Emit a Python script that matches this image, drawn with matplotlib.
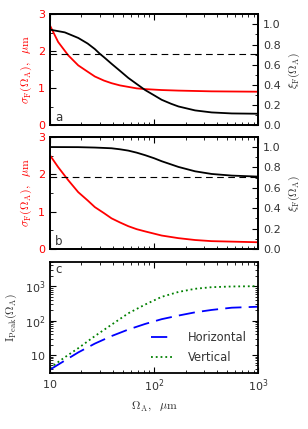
import matplotlib
matplotlib.use('Agg')
import matplotlib.pyplot as plt
from matplotlib.ticker import MultipleLocator, LogLocator, NullFormatter

plt.rcParams['mathtext.fontset'] = 'cm'
plt.rcParams['font.size'] = 7.5

# panel a
xa_sig = [10, 12, 15, 18.7, 23, 27, 33, 39, 47, 56.5, 68, 82, 118, 171, 356, 1000]
sig_a = [2.70, 2.25, 1.89, 1.62, 1.45, 1.32, 1.21, 1.14, 1.08, 1.04, 1.00, 0.98, 0.955, 0.94, 0.92, 0.91]
xa_xi = [10, 13.9, 18.7, 23, 27, 30, 33, 39, 47, 56.5, 68, 82, 100, 118, 145, 171, 247, 356, 555, 1000]
xi_a = [0.947, 0.92, 0.865, 0.81, 0.755, 0.71, 0.675, 0.61, 0.54, 0.47, 0.41, 0.35, 0.298, 0.254, 0.215,
        0.188, 0.149, 0.129, 0.119, 0.116]

# panel b
xb_sig = [10, 12, 15, 18.7, 23, 27, 33, 39, 47, 56.5, 68, 82, 118, 171, 247, 356, 1000]
sig_b = [2.51, 2.19, 1.84, 1.52, 1.30, 1.12, 0.96, 0.82, 0.71, 0.61, 0.53, 0.47, 0.36, 0.29, 0.24, 0.21, 0.18]
xb_xi = [10, 18.7, 27, 39, 47, 56.5, 68, 82, 100, 118, 145, 171, 247, 356, 555, 1000]
xi_b = [1.0, 0.999, 0.995, 0.988, 0.978, 0.965, 0.945, 0.92, 0.89, 0.861, 0.83, 0.805, 0.762, 0.736, 0.72, 0.71]

xi_ref = 0.707

# panel c
xc = [10, 13.9, 18.7, 27, 39, 56.5, 82, 118, 171, 247, 356, 555, 1000]
peak_h = [3.75, 6.9, 11.9, 21.5, 35.5, 55, 80, 110, 140, 174, 204, 237, 253]
peak_v = [4.2, 8.6, 15.8, 35.5, 76, 163, 293, 490, 680, 840, 935, 980, 1000]
dec_ticks = [10, 100, 1000]
dec_labels = [r'$\mathdefault{10}$', r'$\mathdefault{10^2}$', r'$\mathdefault{10^3}$']

red = '#ff0000'
grey = '#333333'

fig = plt.figure(figsize=(3.08, 4.29), dpi=100)
L, W = 0.162, 0.677
ax_a = fig.add_axes([L, 0.7075, W, 0.2595])
ax_b = fig.add_axes([L, 0.4196, W, 0.2614])
ax_c = fig.add_axes([L, 0.1305, W, 0.2585])


def style(ax):
    for s in ax.spines.values():
        s.set_linewidth(1.3)
    ax.tick_params(which='both', direction='in', top=True, labelsize=8)
    ax.tick_params(which='major', length=4)
    ax.tick_params(which='minor', length=2)


for ax, xs, sig, xx, xi, tag in [(ax_a, xa_sig, sig_a, xa_xi, xi_a, 'a'),
                                 (ax_b, xb_sig, sig_b, xb_xi, xi_b, 'b')]:
    ax.plot(xs, sig, color=red, lw=1.3)
    ax.set_xscale('log')
    ax.set_xlim(10, 1000)
    ax.set_ylim(0, 3)
    ax.yaxis.set_major_locator(MultipleLocator(1))
    ax.yaxis.set_minor_locator(MultipleLocator(0.5))
    style(ax)
    ax.tick_params(axis='y', which='both', right=False, labelcolor=red)
    ax.xaxis.set_major_formatter(NullFormatter())
    ax.xaxis.set_minor_formatter(NullFormatter())
    ax.set_ylabel(r'$\sigma_{\rm F}(\Omega_{\rm A}),\ \ \mu{\rm m}$', color=red, fontsize=8.5, labelpad=3)
    ax.text(0.025, 0.04, tag, transform=ax.transAxes, fontsize=8.5, color=grey)
    tw = ax.twinx()
    tw.plot(xx, xi, color='black', lw=1.3)
    tw.axhline(xi_ref, color='black', lw=0.8, dashes=(6, 4))
    tw.set_ylim(0, 1.1)
    tw.yaxis.set_major_locator(MultipleLocator(0.2))
    tw.yaxis.set_minor_locator(MultipleLocator(0.1))
    tw.yaxis.set_major_formatter(plt.FuncFormatter(lambda v, p: '%.1f' % v))
    for s in tw.spines.values():
        s.set_linewidth(1.3)
    tw.tick_params(which='both', direction='in', labelsize=8, labelcolor=grey)
    tw.tick_params(which='major', length=4)
    tw.tick_params(which='minor', length=2)
    tw.set_ylabel(r'$\xi_{\rm F}(\Omega_{\rm A})$', fontsize=8.5, color=grey)

ax_c.plot(xc, peak_h, color='blue', lw=1.3, dashes=(9, 4), label='Horizontal')
ax_c.plot(xc, peak_v, color='green', lw=1.3, ls=':', label='Vertical')
ax_c.set_xscale('log')
ax_c.set_yscale('log')
ax_c.set_xlim(10, 1000)
ax_c.set_ylim(3, 5000)
style(ax_c)
ax_c.tick_params(which='both', right=True)
ax_c.set_xticks(dec_ticks, dec_labels)
ax_c.set_yticks(dec_ticks, dec_labels)
ax_c.yaxis.set_minor_locator(LogLocator(subs=range(2, 10)))
ax_c.yaxis.set_minor_formatter(NullFormatter())
ax_c.xaxis.set_minor_formatter(NullFormatter())
ax_c.tick_params(labelcolor=grey)
ax_c.set_xlabel(r'$\Omega_{\rm A},\ \ \mu{\rm m}$', fontsize=8.5, color=grey)
ax_c.set_ylabel(r'${\rm I}_{\rm Peak}(\Omega_{\rm A})$', fontsize=8.5, color=grey)
ax_c.text(0.025, 0.9, 'c', transform=ax_c.transAxes, fontsize=8.5, color=grey)
ax_c.legend(loc='lower right', frameon=False, fontsize=8.3, handlelength=1.9,
            handletextpad=1.3, labelspacing=0.6, borderpad=0, borderaxespad=0,
            labelcolor=grey, bbox_to_anchor=(0.946, 0.085))

fig.savefig('out.png', dpi=100)
